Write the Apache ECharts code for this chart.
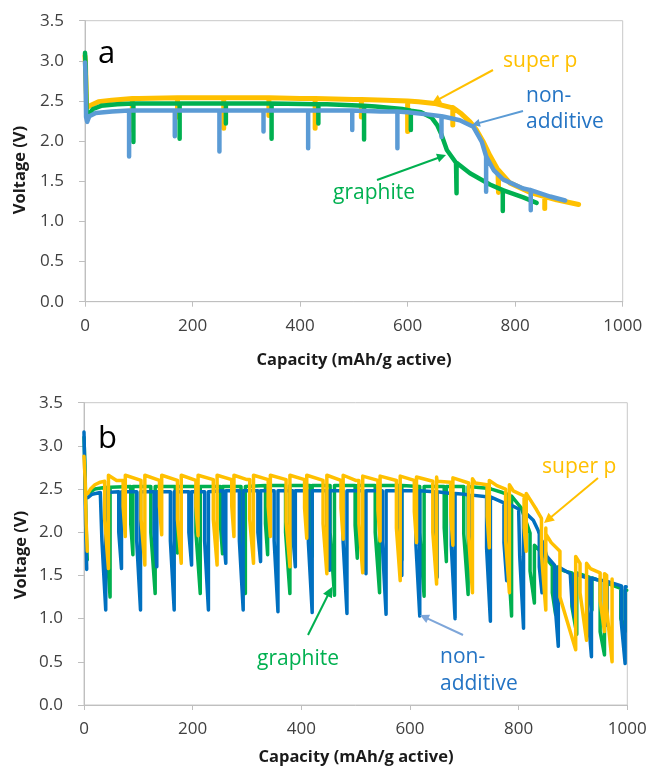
<!DOCTYPE html>
<html><head><meta charset="utf-8">
<script src="https://cdn.jsdelivr.net/npm/echarts@6/dist/echarts.min.js"></script>
<style>html,body{margin:0;padding:0;background:#fff}#c{width:652px;height:767px}</style>
</head><body><div id="c"></div>
<script>
// ---------- tick labels ----------
const yTickLabels = ['0.0','0.5','1.0','1.5','2.0','2.5','3.0','3.5'];
const xTickLabels = ['0','200','400','600','800','1000'];

// ---------- panel a : [capacity, voltage] ----------
const aSuperCurve = [[0,3.06],[1,2.95],[3,2.42],[6,2.40],[12,2.45],[25,2.49],[50,2.51],[100,2.53],[200,2.54],[300,2.54],[400,2.53],[500,2.52],[560,2.51],[620,2.49],[650,2.47],[680,2.42],[700,2.34],[716,2.24],[728,2.14],[740,2.00],[753,1.82],[768,1.64],[790,1.48],[828,1.36],[877,1.27],[918,1.21]];
const aGraphCurve = [[0,3.10],[1,2.97],[3,2.36],[6,2.33],[15,2.40],[30,2.44],[60,2.46],[150,2.47],[300,2.47],[450,2.46],[540,2.43],[590,2.40],[625,2.36],[645,2.29],[655,2.20],[663,2.08],[673,1.89],[690,1.73],[716,1.60],[753,1.46],[790,1.36],[815,1.30],[840,1.23]];
const aNonCurve = [[0,2.98],[1,2.85],[2,2.30],[4,2.24],[8,2.31],[20,2.35],[50,2.37],[150,2.38],[300,2.38],[450,2.38],[550,2.37],[600,2.36],[640,2.33],[670,2.30],[697,2.26],[722,2.18],[738,1.99],[747,1.81],[760,1.64],[778,1.52],[815,1.41],[865,1.31],[893,1.26]];
// spikes: [capacity, top voltage, bottom voltage]
const aSuperSpikes = [[88,2.53,2.14],[172,2.54,2.30],[258,2.54,2.16],[342,2.54,2.32],[428,2.53,2.16],[514,2.52,2.30],[600,2.50,2.12],[684,2.42,2.20],[769,1.64,1.36],[855,1.31,1.16]];
const aGraphSpikes = [[90,2.47,1.99],[176,2.47,2.03],[262,2.47,2.22],[347,2.47,2.03],[434,2.46,2.22],[519,2.44,2.02],[606,2.38,2.14],[691,1.73,1.35],[777,1.39,1.13]];
const aNonSpikes = [[82,2.38,1.81],[167,2.38,2.06],[250,2.38,1.87],[332,2.38,2.12],[415,2.38,1.91],[497,2.38,2.14],[581,2.37,1.91],[663,2.31,2.05],[746,1.81,1.37],[829,1.39,1.14]];

// ---------- panel b : [capacity, voltage] ----------
const bNonCurve = [[0,3.16],[1,2.85],[3,2.10],[5,1.57],null,[7,2.40],[15,2.44],[30,2.46],[100,2.47],[300,2.48],[500,2.48],[650,2.47],[700,2.44],[750,2.41],[780,2.33],[800,2.27],[815,2.21],[827,2.14],[836,2.02],[845,1.86],[852,1.72],[870,1.60],[895,1.52],[944,1.45],[998,1.37]];
const bSuperCurve = [[0,2.88],[2,2.62],[4,2.10],[6,1.78],null,[7,2.45],[12,2.50],[20,2.55],[30,2.58],[60,2.60],[300,2.61],[500,2.60],[650,2.59],[720,2.57],[760,2.54],[790,2.48],[810,2.42],[825,2.34],[833,2.26],[842,2.16],[850,1.98],[860,1.88],[876,1.78],[895,1.70],[913,1.64],[932,1.58],[950,1.53],[971,1.46]];
const bGraphCurve = [[0,3.10],[2,2.70],[4,2.05],[6,1.68],null,[8,2.45],[20,2.50],[40,2.52],[100,2.53],[400,2.54],[700,2.53],[750,2.50],[770,2.46],[790,2.40],[805,2.28],[821,1.99],[840,1.78],[864,1.60],[885,1.55],[907,1.53],[935,1.47],[962,1.41],[999,1.33]];
// pulses: [start capacity, top V, knee V, end capacity, bottom V, recovery V]
const bNonSpikes = [[33,2.46,1.90,40,1.10,2.46],[64,2.47,2.00,69,1.58,2.47],[97,2.47,1.90,104,1.10,2.47],[129,2.47,2.00,134,1.60,2.47],[159,2.47,1.90,166,1.10,2.47],[193,2.47,2.00,198,1.62,2.47],[222,2.47,1.90,229,1.10,2.47],[256,2.48,2.00,261,1.64,2.48],[286,2.48,1.90,293,1.10,2.48],[320,2.48,2.00,325,1.66,2.48],[350,2.48,1.90,357,1.08,2.48],[384,2.48,2.00,389,1.60,2.48],[413,2.48,1.88,420,1.07,2.48],[447,2.48,2.00,452,1.56,2.48],[477,2.48,1.88,484,1.06,2.48],[514,2.48,1.98,519,1.52,2.48],[549,2.48,1.88,556,1.05,2.48],[580,2.48,1.98,585,1.50,2.48],[611,2.48,1.85,618,1.03,2.48],[645,2.47,1.96,650,1.48,2.47],[676,2.45,1.85,683,1.00,2.45],[709,2.43,1.94,714,1.46,2.43],[741,2.41,1.82,748,0.97,2.41],[773,2.34,1.88,778,1.44,2.34],[802,2.26,1.72,809,0.89,2.26],[838,1.98,1.60,843,1.30,1.90],[866,1.62,1.25,873,0.68,1.60],[898,1.52,1.20,903,1.02,1.52],[927,1.47,1.10,934,0.56,1.47],[958,1.44,1.12,963,0.92,1.43],[989,1.38,0.95,996,0.48,1.37]];
const bSuperSpikes = [[38,2.59,2.15,45,1.58,2.66],[72,2.60,2.30,76,1.95,2.66],[105,2.60,2.15,112,1.62,2.66],[139,2.60,2.30,143,1.97,2.66],[172,2.60,2.15,179,1.64,2.66],[206,2.60,2.30,210,1.96,2.66],[238,2.61,2.15,245,1.62,2.66],[272,2.61,2.30,276,1.95,2.66],[305,2.61,2.15,312,1.64,2.66],[339,2.61,2.30,343,1.95,2.66],[372,2.61,2.12,379,1.60,2.66],[406,2.61,2.28,410,1.93,2.66],[440,2.60,2.10,447,1.52,2.66],[473,2.60,2.28,477,1.92,2.66],[506,2.60,2.10,513,1.53,2.65],[541,2.60,2.26,545,1.90,2.65],[575,2.60,2.05,582,1.44,2.65],[608,2.60,2.24,612,1.88,2.64],[642,2.59,2.00,649,1.40,2.64],[675,2.58,2.20,679,1.85,2.63],[708,2.57,1.95,715,1.30,2.62],[742,2.55,2.18,746,1.82,2.60],[776,2.50,1.90,783,1.30,2.55],[810,2.42,2.05,814,1.78,2.45],[842,2.16,1.75,850,1.10,2.05],[876,1.78,1.25,905,0.64,1.72],[913,1.64,1.30,925,0.75,1.64],[950,1.53,1.20,958,0.85,1.52],[962,1.50,1.12,972,0.50,1.46]];
const bGraphSpikes = [[40,2.52,2.00,48,1.25,2.52],[86,2.53,2.10,90,1.74,2.53],[123,2.53,2.00,131,1.29,2.53],[168,2.53,2.10,172,1.76,2.53],[206,2.53,2.00,214,1.29,2.53],[251,2.53,2.10,255,1.75,2.53],[289,2.53,2.00,297,1.29,2.53],[334,2.54,2.10,338,1.74,2.54],[371,2.54,2.00,379,1.29,2.54],[416,2.54,2.08,420,1.72,2.54],[453,2.54,2.00,461,1.27,2.54],[499,2.54,2.08,503,1.70,2.54],[536,2.54,2.00,544,1.30,2.54],[581,2.54,2.06,585,1.68,2.54],[618,2.53,2.00,626,1.26,2.53],[663,2.53,2.05,667,1.66,2.53],[699,2.53,1.98,707,1.28,2.53],[742,2.51,2.02,746,1.62,2.51],[779,2.44,1.90,787,1.03,2.42],[821,1.99,1.55,829,1.18,1.85],[862,1.61,1.30,868,1.05,1.60],[898,1.53,1.14,907,0.82,1.53],[930,1.48,1.25,935,1.10,1.47],[950,1.44,0.85,958,0.58,1.43],[988,1.35,1.00,996,0.85,1.33]];

// ---------- build line data (curve + pulses in capacity order) ----------
function buildA(curve, spikes) {
  const items = [];
  curve.forEach(p => items.push({k: p[0], p}));
  spikes.forEach(s => items.push({k: s[0] + 1e-6, s}));
  items.sort((a, b) => a.k - b.k);
  const out = [];
  items.forEach(it => {
    if (it.p) out.push(it.p);
    else { const [c, top, bot] = it.s; out.push([c, top], [c, bot], [c, top]); }
  });
  return out;
}
function buildB(curve, spikes) {
  const items = [];
  let last = 0;
  curve.forEach(p => {
    if (p === null) items.push({k: last + 1e-6, gap: true});
    else { last = p[0]; items.push({k: p[0], p}); }
  });
  spikes.forEach(s => items.push({k: s[0] + 1e-6, s}));
  items.sort((a, b) => a.k - b.k);
  const out = [];
  items.forEach(it => {
    if (it.gap) out.push([it.k, '-']);
    else if (it.p) {
      if (spikes.some(s => it.p[0] > s[0] && it.p[0] < s[3])) return;
      out.push(it.p);
    } else {
      const [s, top, knee, e, bot, rec] = it.s;
      out.push([s, top], [s, knee], [e, bot], [e, rec]);
    }
  });
  return out;
}

const C_SUPER = '#FFC000', C_GRAPH = '#00B050', C_NON_A = '#5B9BD5', C_NON_B = '#0070C0', C_BLUE_TXT = '#2474C4';
const FONT = '"Open Sans", "Noto Sans", sans-serif';

function lineSeries(name, data, color, width, xi) {
  return { name, type: 'line', xAxisIndex: xi, yAxisIndex: xi, data, showSymbol: false, symbol: 'none',
    lineStyle: { color, width, cap: 'round', join: 'round' }, animation: false, silent: true, z: 2 };
}
function axisX(gi) {
  return { gridIndex: gi, type: 'value', min: 0, max: 1000, interval: 200,
    axisLine: { show: true, onZero: false, lineStyle: { color: '#BFBFBF', width: 1 } },
    axisTick: { show: true, length: 5, lineStyle: { color: '#BFBFBF' } },
    axisLabel: { margin: 16, color: '#404040', fontSize: 17, fontFamily: FONT, formatter: v => xTickLabels[Math.round(v / 200)] },
    splitLine: { show: false } };
}
function axisY(gi) {
  return { gridIndex: gi, type: 'value', min: 0, max: 3.5, interval: 0.5,
    axisLine: { show: true, onZero: false, lineStyle: { color: '#BFBFBF', width: 1 } },
    axisTick: { show: true, length: 6, lineStyle: { color: '#BFBFBF' } },
    axisLabel: { margin: 21, color: '#404040', fontSize: 17, fontFamily: FONT, formatter: v => yTickLabels[Math.round(v / 0.5)] },
    splitLine: { show: false } };
}
function txt(x, y, text, color, size, weight, rot) {
  const el = { type: 'text', x, y, z: 100,
    style: { text, fill: color, font: (weight || 'normal') + ' ' + size + 'px ' + FONT,
      textAlign: rot ? 'center' : 'left', textVerticalAlign: 'middle', align: rot ? 'center' : 'left', verticalAlign: 'middle' } };
  if (rot) el.rotation = rot;
  return el;
}
function ctxt(x, y, text, color, size, weight) {
  return { type: 'text', x, y, z: 100,
    style: { text, fill: color, font: (weight || 'normal') + ' ' + size + 'px ' + FONT,
      textAlign: 'center', textVerticalAlign: 'middle', align: 'center', verticalAlign: 'middle' } };
}
function arrow(x1, y1, x2, y2, color, w, head) {
  const dx = x2 - x1, dy = y2 - y1, L = Math.hypot(dx, dy), ux = dx / L, uy = dy / L;
  const bx = x2 - ux * head, by = y2 - uy * head, px = -uy, py = ux, hw = head * 0.5;
  return [
    { type: 'line', z: 100, shape: { x1, y1, x2: bx + ux, y2: by + uy }, style: { stroke: color, lineWidth: w } },
    { type: 'polygon', z: 100, shape: { points: [[x2, y2], [bx + px * hw, by + py * hw], [bx - px * hw, by - py * hw]] }, style: { fill: color } }
  ];
}

const chart = echarts.init(document.getElementById('c'), null, { renderer: 'canvas' });
chart.setOption({
  animation: false,
  backgroundColor: '#fff',
  textStyle: { fontFamily: FONT },
  grid: [
    { left: 85, top: 20.7, width: 537.7, height: 281, show: true, borderColor: '#C8C8C8', borderWidth: 1, backgroundColor: 'transparent' },
    { left: 84, top: 402.7, width: 543.3, height: 302.3, show: true, borderColor: '#C8C8C8', borderWidth: 1, backgroundColor: 'transparent' }
  ],
  xAxis: [axisX(0), axisX(1)],
  yAxis: [axisY(0), axisY(1)],
  series: [
    lineSeries('super p', buildA(aSuperCurve, aSuperSpikes), C_SUPER, 5, 0),
    lineSeries('graphite', buildA(aGraphCurve, aGraphSpikes), C_GRAPH, 4.5, 0),
    lineSeries('non-additive', buildA(aNonCurve, aNonSpikes), C_NON_A, 4.5, 0),
    lineSeries('graphite', buildB(bGraphCurve, bGraphSpikes), C_GRAPH, 3.5, 1),
    lineSeries('non-additive', buildB(bNonCurve, bNonSpikes), C_NON_B, 3.5, 1),
    lineSeries('super p', buildB(bSuperCurve, bSuperSpikes), C_SUPER, 3.5, 1)
  ],
  graphic: [
    txt(98, 54, 'a', '#000', 31),
    txt(98, 439, 'b', '#000', 31),
    ctxt(354, 360, 'Capacity (mAh/g active)', '#1a1a1a', 16.5, 'bold'),
    ctxt(356, 757, 'Capacity (mAh/g active)', '#1a1a1a', 16.5, 'bold'),
    txt(20, 170, 'Voltage (V)', '#1a1a1a', 16.5, 'bold', Math.PI / 2),
    txt(21, 555, 'Voltage (V)', '#1a1a1a', 16.5, 'bold', Math.PI / 2),
    // panel a annotations
    txt(503, 61, 'super p', C_SUPER, 21),
    txt(526, 96, 'non-', C_BLUE_TXT, 21),
    txt(526, 122, 'additive', C_BLUE_TXT, 21),
    txt(333, 193, 'graphite', C_GRAPH, 21),
    ...arrow(493, 70, 432, 103, C_SUPER, 2, 9),
    ...arrow(523, 111, 472, 125, C_NON_A, 2, 8),
    ...arrow(377, 180, 446, 155, C_GRAPH, 2, 9),
    // panel b annotations
    txt(542, 467, 'super p', C_SUPER, 21),
    txt(440, 657, 'non-', C_BLUE_TXT, 21),
    txt(440, 684, 'additive', C_BLUE_TXT, 21),
    txt(257, 659, 'graphite', C_GRAPH, 21),
    ...arrow(598, 478, 544, 523, C_SUPER, 2, 10),
    ...arrow(463, 635, 420, 615, '#7EA6D9', 2, 9),
    ...arrow(308, 635, 332, 587, C_GRAPH, 2, 10)
  ]
});
</script>
</body></html>
